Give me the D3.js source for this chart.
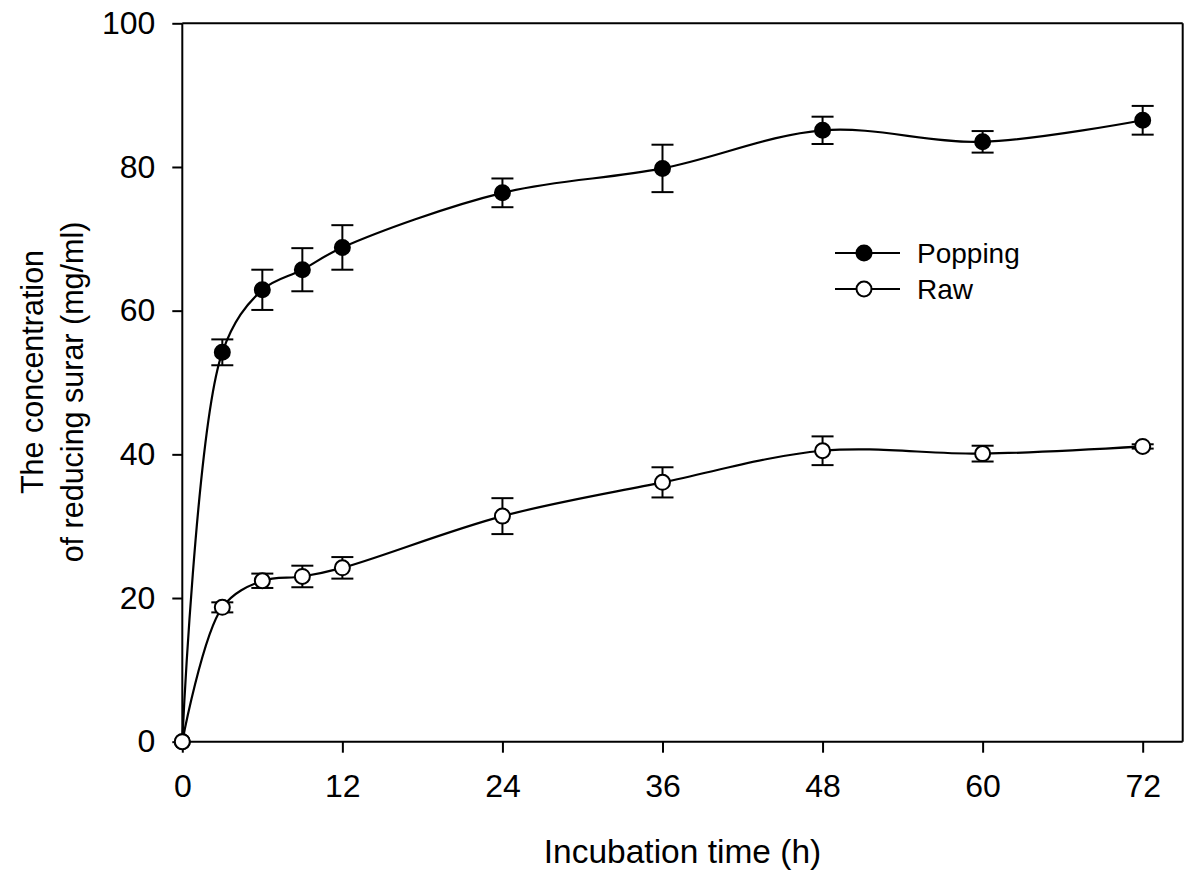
<!DOCTYPE html>
<html>
<head>
<meta charset="utf-8">
<script src="https://cdn.jsdelivr.net/npm/d3@7/dist/d3.min.js"></script>
<style>
  html, body { margin: 0; padding: 0; background: #fff; }
  svg { display: block; }
  text { font-family: "Liberation Sans", Arial, sans-serif; fill: #000; }
</style>
</head>
<body>
<svg id="chart" width="1200" height="880"></svg>
<script>
// ---- Data ----
const hours = [0, 3, 6, 9, 12, 24, 36, 48, 60, 72];
const poppingMean = [0, 54.2, 62.9, 65.7, 68.8, 76.4, 79.8, 85.1, 83.5, 86.5];
const poppingErr  = [0, 1.8, 2.8, 3.0, 3.1, 2.0, 3.3, 1.9, 1.5, 2.0];
const rawMean = [0, 18.7, 22.4, 23.0, 24.2, 31.4, 36.1, 40.5, 40.1, 41.1];
const rawErr  = [0, 0.7, 1.0, 1.5, 1.5, 2.5, 2.1, 2.0, 1.1, 0.3];
const xTicks = [0, 12, 24, 36, 48, 60, 72];
const yTicks = [0, 20, 40, 60, 80, 100];
const seriesNames = ["Popping", "Raw"];
const xTitle = "Incubation time (h)";
const yTitleLines = ["The concentration", "of reducing surar (mg/ml)"];

// ---- Layout ----
const svg = d3.select("#chart");
const pL = 182.3, pR = 1182.7, pT = 23.3, pB = 741.7;
const x = d3.scaleLinear().domain([0, 75]).range([pL, pR]);
const y = d3.scaleLinear().domain([0, 100]).range([pB, pT]);

const series = [
  { name: seriesNames[0], mean: poppingMean, err: poppingErr, fill: "#000" },
  { name: seriesNames[1], mean: rawMean, err: rawErr, fill: "#fff" }
];

// Frame (top/right lines)
svg.append("line").attr("x1", pL).attr("x2", pR).attr("y1", pT).attr("y2", pT)
  .attr("stroke", "#000").attr("stroke-width", 2);
svg.append("line").attr("x1", pR).attr("x2", pR).attr("y1", pT).attr("y2", pB)
  .attr("stroke", "#000").attr("stroke-width", 2);

// Axes
const xAxis = svg.append("g").attr("transform", `translate(0,${pB})`)
  .call(d3.axisBottom(x).tickValues(xTicks).tickSize(11).tickPadding(22).tickSizeOuter(0));
const yAxis = svg.append("g").attr("transform", `translate(${pL},0)`)
  .call(d3.axisLeft(y).tickValues(yTicks).tickSize(10).tickPadding(17).tickSizeOuter(0));
[xAxis, yAxis].forEach(g => {
  g.select(".domain").attr("stroke", "#000").attr("stroke-width", 2);
  g.selectAll(".tick line").attr("stroke", "#000").attr("stroke-width", 2);
  g.selectAll(".tick text").attr("font-size", 32).attr("font-family", '"Liberation Sans", Arial, sans-serif').attr("fill", "#000");
});
xAxis.select(".domain").attr("d", `M${pL},0H${pR}`);
yAxis.select(".domain").attr("d", `M0,${pB}V${pT}`);

// Lines
const line = d3.line().x((d, i) => x(hours[i])).y(d => y(d)).curve(d3.curveCatmullRom.alpha(0.5));
series.forEach(s => {
  svg.append("path").attr("d", line(s.mean)).attr("fill", "none")
    .attr("stroke", "#000").attr("stroke-width", 2.2);
});

// Error bars
const capHalf = 11;
series.forEach(s => {
  const g = svg.append("g");
  hours.forEach((h, i) => {
    if (s.err[i] <= 0) return;
    const cx = x(h), y1 = y(s.mean[i] + s.err[i]), y2 = y(s.mean[i] - s.err[i]);
    g.append("line").attr("x1", cx).attr("x2", cx).attr("y1", y1).attr("y2", y2)
      .attr("stroke", "#000").attr("stroke-width", 2);
    [y1, y2].forEach(yy => g.append("line").attr("x1", cx - capHalf).attr("x2", cx + capHalf)
      .attr("y1", yy).attr("y2", yy).attr("stroke", "#000").attr("stroke-width", 2));
  });
});

// Markers
series.forEach(s => {
  svg.append("g").selectAll("circle").data(s.mean).join("circle")
    .attr("cx", (d, i) => x(hours[i])).attr("cy", d => y(d)).attr("r", 7.5)
    .attr("fill", s.fill).attr("stroke", "#000").attr("stroke-width", 2);
});

// Legend
const legY = [253, 289];
series.forEach((s, i) => {
  svg.append("line").attr("x1", 835).attr("x2", 900).attr("y1", legY[i]).attr("y2", legY[i])
    .attr("stroke", "#000").attr("stroke-width", 2);
  svg.append("circle").attr("cx", 864).attr("cy", legY[i]).attr("r", 7.5)
    .attr("fill", s.fill).attr("stroke", "#000").attr("stroke-width", 2);
  svg.append("text").attr("x", 917).attr("y", legY[i] + 10).attr("font-size", 28).text(s.name);
});

// Axis titles
svg.append("text").attr("x", (543 + 822) / 2).attr("y", 863).attr("text-anchor", "middle")
  .attr("font-size", 33.5).text(xTitle);
svg.append("text").attr("transform", "translate(43,372) rotate(-90)").attr("text-anchor", "middle")
  .attr("font-size", 30.5).text(yTitleLines[0]);
svg.append("text").attr("transform", "translate(83,392) rotate(-90)").attr("text-anchor", "middle")
  .attr("font-size", 30.5).text(yTitleLines[1]);
</script>
</body>
</html>
